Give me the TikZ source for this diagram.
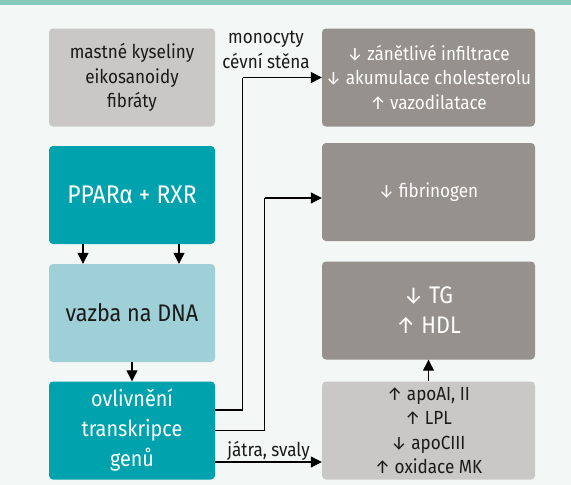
\documentclass[tikz,border=0pt]{standalone}
\usepackage{fontspec}
\setmainfont{Fira Sans}[FakeStretch=0.9]
\usetikzlibrary{arrows.meta}

\definecolor{pagebg}{HTML}{F3F7F6}
\definecolor{topbar}{HTML}{84C9BC}
\definecolor{greylight}{HTML}{C9C8C6}
\definecolor{greydark}{HTML}{96918D}
\definecolor{tealdark}{HTML}{00A3AD}
\definecolor{teallight}{HTML}{A0D0D7}
\definecolor{inkdark}{HTML}{1A1A1A}

\tikzset{
	box/.style={rounded corners=4pt, minimum width=166pt, minimum height=98pt,
		inner sep=0pt, align=center, text=inkdark},
	effbox/.style={box, minimum width=213pt},
	conn/.style={line width=1.2pt, -{Triangle[length=11pt,width=11pt]}},
	txt/.style={font=\fontsize{19}{24.5}\selectfont},
	bigtxt/.style={font=\fontsize{24}{30}\selectfont}
}

\begin{document}
\begin{tikzpicture}[x=1pt,y=-1pt]

	% Background and top band
	\useasboundingbox (0,0) rectangle (571,485);
	\fill[pagebg] (0,0) rectangle (571,485);
	\fill[topbar] (0,0) rectangle (571,5);

	% Left column
	\node[box, txt, fill=greylight] (ligand) at (132,77.5) {mastné kyseliny\\eikosanoidy\\fibráty};
	\node[box, font=\fontsize{25.5}{30}\selectfont, fill=tealdark, text=white] (ppar) at (132,195) {PPARα + RXR};
	\node[box, bigtxt, fill=teallight] (vazba) at (132,313) {vazba na DNA};
	\node[box, font=\fontsize{22}{30}\selectfont, fill=tealdark, text=white] (ovliv) at (132,430.5) {ovlivnění\\transkripce\\genů};

	% Right column
	\node[effbox, txt, fill=greydark, text=white] (infl) at (428.5,77.5) {↓ zánětlivé infiltrace\\↓ akumulace cholesterolu\\↑ vazodilatace};
	\node[effbox, txt, fill=greydark, text=white] (fibr) at (428.5,192) {↓ fibrinogen};
	\node[effbox, bigtxt, fill=greydark, text=white] (lipid) at (428.5,310.5) {↓ TG\\↑ HDL};
	\node[effbox, txt, fill=greylight] (apo) at (428.5,430.5) {↑ apoAI, II\\↑ LPL\\↓ apoCIII\\↑ oxidace MK};

	% Side label
	\node[txt, align=center, text=inkdark] (cells) at (266,50) {monocyty\\cévní stěna};

	% Connectors
	\draw[conn] ([xshift=-49pt]ppar.south) -- ([xshift=-49pt]vazba.north);
	\draw[conn] ([xshift=47pt]ppar.south) -- ([xshift=47pt]vazba.north);
	\draw[conn] (vazba) -- (ovliv);
	\draw[line width=1.2pt] ([yshift=20.5pt]ovliv.east) -| ([xshift=-79pt]infl.west);
	\draw[conn] ([xshift=-79pt]infl.west) -- (infl.west);
	\draw[line width=1.2pt] (ovliv.east) -| ([xshift=-57pt,yshift=-6pt]fibr.west);
	\draw[conn] ([xshift=-57pt,yshift=-6pt]fibr.west) -- ([yshift=-6pt]fibr.west);
	\draw[conn] ([yshift=-31.5pt]ovliv.east) -- ([yshift=-31.5pt]ovliv.east -| apo.west)
		node[midway, above, txt, text=inkdark, inner sep=1pt] {játra, svaly};
	\draw[conn] (apo) -- (lipid);

\end{tikzpicture}
\end{document}
